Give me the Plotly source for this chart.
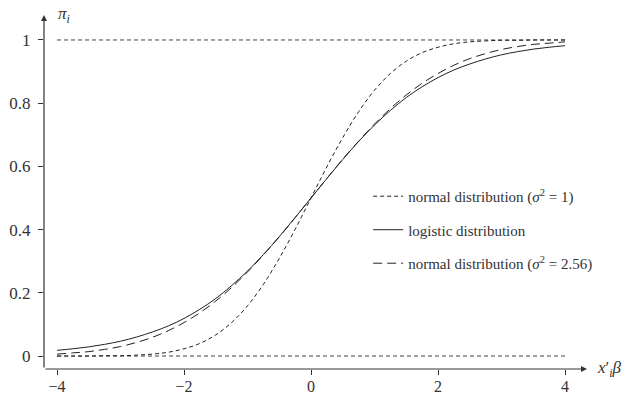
import plotly.graph_objects as go

# x'_i beta grid
x_vals = [-4.0, -3.75, -3.5, -3.25, -3.0, -2.75, -2.5, -2.25, -2.0, -1.75, -1.5, -1.25,
          -1.0, -0.75, -0.5, -0.25, 0.0, 0.25, 0.5, 0.75, 1.0, 1.25, 1.5, 1.75,
          2.0, 2.25, 2.5, 2.75, 3.0, 3.25, 3.5, 3.75, 4.0]

normal_1 = [0.000, 0.000, 0.000, 0.001, 0.001, 0.003, 0.006, 0.012, 0.023, 0.040, 0.067, 0.106,
            0.159, 0.227, 0.309, 0.401, 0.500, 0.599, 0.691, 0.773, 0.841, 0.894, 0.933, 0.960,
            0.977, 0.988, 0.994, 0.997, 0.999, 0.999, 1.000, 1.000, 1.000]

logistic = [0.018, 0.023, 0.029, 0.037, 0.047, 0.060, 0.076, 0.095, 0.119, 0.148, 0.182, 0.223,
            0.269, 0.321, 0.378, 0.438, 0.500, 0.562, 0.622, 0.679, 0.731, 0.777, 0.818, 0.852,
            0.881, 0.905, 0.924, 0.940, 0.953, 0.963, 0.971, 0.977, 0.982]

normal_256 = [0.006, 0.010, 0.014, 0.021, 0.030, 0.043, 0.059, 0.080, 0.106, 0.137, 0.174, 0.217,
              0.266, 0.320, 0.377, 0.438, 0.500, 0.562, 0.623, 0.680, 0.734, 0.783, 0.826, 0.863,
              0.894, 0.920, 0.941, 0.957, 0.970, 0.979, 0.986, 0.990, 0.994]

ref_x = [-4, 4]
ref_levels = [0, 1]

x_ticks = [-4, -2, 0, 2, 4]
y_ticks = [0, 0.2, 0.4, 0.6, 0.8, 1]

names = ["normal distribution (<i>σ</i><sup>2</sup> = 1)",
         "logistic distribution",
         "normal distribution (<i>σ</i><sup>2</sup> = 2.56)"]

FONT = "Liberation Serif"
DARK = "#222222"
GREY = "#333333"

fig = go.Figure()

for lvl in ref_levels:
    fig.add_trace(go.Scatter(x=ref_x, y=[lvl, lvl], mode="lines", showlegend=False,
                             line=dict(color="#444444", width=1, dash="4px,3px"),
                             hoverinfo="skip"))

fig.add_trace(go.Scatter(x=x_vals, y=normal_1, mode="lines", name=names[0], legendgroup="a",
                         line=dict(color=DARK, width=1, dash="4px,3px", shape="spline")))
fig.add_trace(go.Scatter(x=x_vals, y=logistic, mode="lines", name=names[1], legendgroup="b",
                         line=dict(color=DARK, width=1, shape="spline")))
fig.add_trace(go.Scatter(x=x_vals, y=normal_256, mode="lines", name=names[2], legendgroup="c",
                         line=dict(color=DARK, width=1, dash="9px,5px", shape="spline")))

x_range = [-4.205, 4.346]
y_range = [-0.041, 1.079]

fig.update_layout(
    width=628, height=395,
    margin=dict(l=44, r=41, t=15, b=26),
    paper_bgcolor="white", plot_bgcolor="white",
    font=dict(family=FONT, size=16, color=DARK),
    xaxis=dict(range=x_range, tickvals=x_ticks, showgrid=False, zeroline=False,
               showline=False, ticks="outside", ticklen=5, tickcolor=GREY,
               automargin=False, ticklabelstandoff=-2,
               tickfont=dict(family=FONT, size=16, color=GREY)),
    yaxis=dict(range=y_range, tickvals=y_ticks, showgrid=False, zeroline=False,
               showline=False, ticks="outside", ticklen=5, tickcolor=GREY,
               automargin=False, ticklabelstandoff=4,
               tickfont=dict(family=FONT, size=17, color=GREY)),
    legend=dict(x=0.597, y=0.534, xanchor="left", yanchor="top",
                bgcolor="rgba(0,0,0,0)", font=dict(family=FONT, size=15, color=GREY),
                tracegroupgap=11, itemwidth=30),
    showlegend=True,
)

# axes with arrows
fig.add_annotation(x=x_range[1], y=y_range[0], ax=x_range[0], ay=y_range[0],
                   xref="x", yref="y", axref="x", ayref="y", text="", showarrow=True,
                   arrowhead=2, arrowsize=1, arrowwidth=1.2, arrowcolor=GREY)
fig.add_annotation(x=x_range[0], y=y_range[1], ax=x_range[0], ay=y_range[0],
                   xref="x", yref="y", axref="x", ayref="y", text="", showarrow=True,
                   arrowhead=2, arrowsize=1, arrowwidth=1.2, arrowcolor=GREY)

# axis labels
fig.add_annotation(x=x_range[1], y=y_range[0], xref="x", yref="y", xanchor="left",
                   yanchor="middle", xshift=8, showarrow=False,
                   text="<i>x</i>′<sub><i>i</i></sub><i>β</i>",
                   font=dict(family=FONT, size=17, color=GREY))
fig.add_annotation(x=x_range[0], y=y_range[1], xref="x", yref="y", xanchor="left",
                   yanchor="middle", xshift=12, showarrow=False,
                   text="<i>π<sub>i</sub></i>",
                   font=dict(family=FONT, size=17, color=GREY))

fig.write_html("out.html")
